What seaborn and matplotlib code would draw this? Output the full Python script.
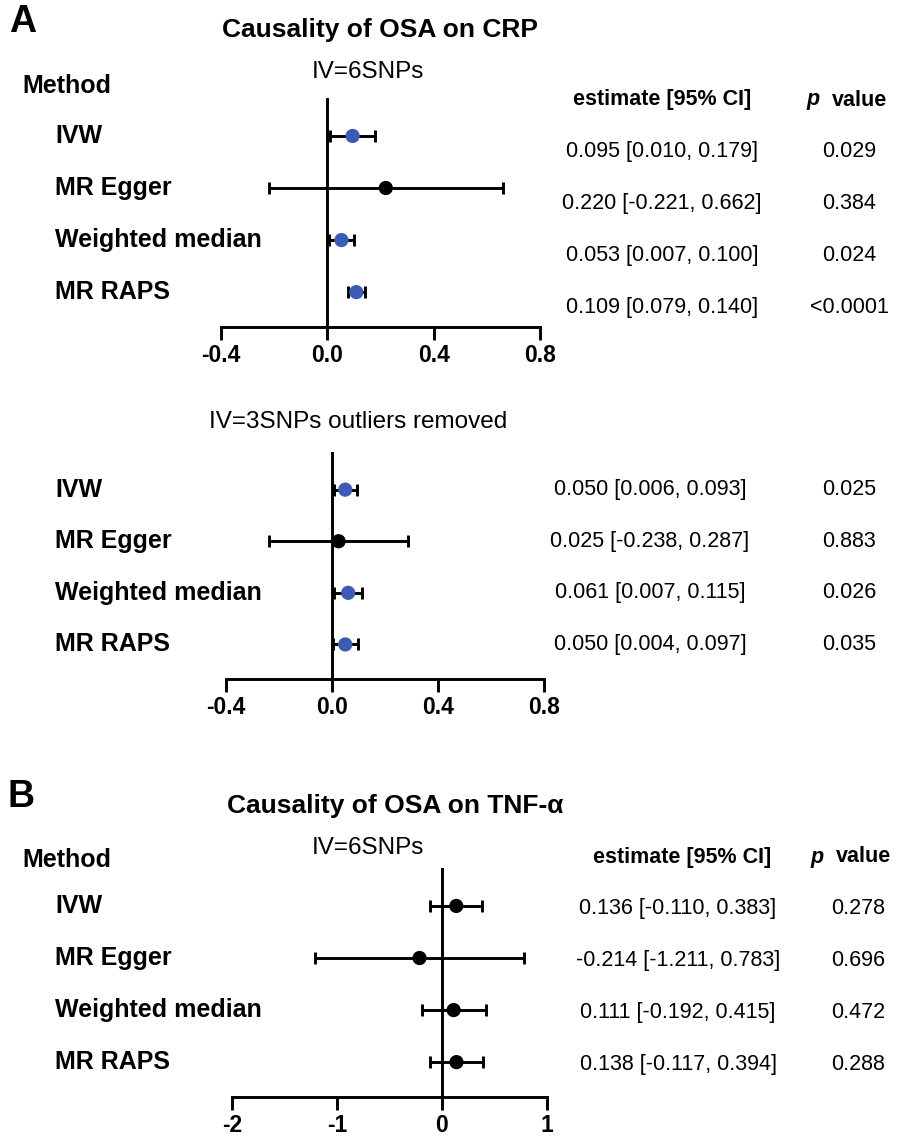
import matplotlib
matplotlib.use("Agg")
import matplotlib.pyplot as plt
import matplotlib.transforms as mtrans
import seaborn as sns
import pandas as pd

sns.set_theme(style="white")
plt.rcParams['font.family'] = ['Liberation Sans', 'DejaVu Sans']
plt.rcParams['text.color'] = 'black'
plt.rcParams['xtick.color'] = 'black'
plt.rcParams['axes.edgecolor'] = 'black'

# ---------------- data ----------------
methods = ["IVW", "MR Egger", "Weighted median", "MR RAPS"]

crp6_est = [0.095, 0.220, 0.053, 0.109]
crp6_lo = [0.010, -0.221, 0.007, 0.079]
crp6_hi = [0.179, 0.662, 0.100, 0.140]
crp6_p = ["0.029", "0.384", "0.024", "<0.0001"]

crp3_est = [0.050, 0.025, 0.061, 0.050]
crp3_lo = [0.006, -0.238, 0.007, 0.004]
crp3_hi = [0.093, 0.287, 0.115, 0.097]
crp3_p = ["0.025", "0.883", "0.026", "0.035"]

tnf_est = [0.136, -0.214, 0.111, 0.138]
tnf_lo = [-0.110, -1.211, -0.192, -0.117]
tnf_hi = [0.383, 0.783, 0.415, 0.394]
tnf_p = ["0.278", "0.696", "0.472", "0.288"]

crp_groups = ["sig", "ns", "sig", "sig"]
tnf_groups = ["ns", "ns", "ns", "ns"]

crp_ticks = [-0.4, 0.0, 0.4, 0.8]
crp_ticklabels = ["-0.4", "0.0", "0.4", "0.8"]
tnf_ticks = [-2, -1, 0, 1]
tnf_ticklabels = ["-2", "-1", "0", "1"]

BLUE = "#3D5BB3"
palette = {"sig": BLUE, "ns": "black"}

W, H = 903, 1137
fig = plt.figure(figsize=(W / 100, H / 100), dpi=100)


def fx(px):
    return px / W


def fy(py):
    return 1 - py / H


def panel(left, right, top, bottom, est, lo, hi, groups, ticks, ticklabels,
          pvals, est_cx, p_cx, text_off, label_x=55):
    ax = fig.add_axes([fx(left), fy(bottom), fx(right - left), (bottom - top) / H])
    df = pd.DataFrame({"method": methods, "pos": range(len(methods)),
                       "est": est, "lo": lo, "hi": hi, "grp": groups})
    ax.errorbar(df["est"], df["pos"],
                xerr=[df["est"] - df["lo"], df["hi"] - df["est"]],
                fmt="none", ecolor="black", elinewidth=2.1, capsize=4.5,
                capthick=2.1, zorder=2)
    sns.scatterplot(data=df, x="est", y="pos", hue="grp", palette=palette,
                    s=105, edgecolor="none", legend=False, ax=ax, zorder=3)
    ax.set_xlim(ticks[0], ticks[-1])
    ax.set_ylim(3.67, -0.71)
    ax.set_xlabel("")
    ax.set_ylabel("")
    ax.set_yticks([])
    ax.set_xticks(ticks)
    ax.set_xticklabels(ticklabels, fontsize=16.5, fontweight="bold")
    ax.tick_params(axis="x", direction="out", length=9, width=2.1, pad=3,
                   bottom=True, colors="black")
    for s in ["top", "right"]:
        ax.spines[s].set_visible(False)
    ax.spines["left"].set_position(("data", 0))
    ax.spines["left"].set_linewidth(2.1)
    ax.spines["bottom"].set_linewidth(2.1)
    ax.spines["left"].set_color("black")
    ax.spines["bottom"].set_color("black")
    ax.patch.set_alpha(0)
    for c in ax.collections:
        c.set_clip_on(False)
    for l in ax.lines:
        l.set_clip_on(False)

    tr = mtrans.blended_transform_factory(fig.transFigure, ax.transData)
    for i, m in enumerate(methods):
        fig.text(fx(label_x), i, m, transform=tr, fontsize=18,
                 fontweight="bold", ha="left", va="center")
        fig.text(fx(est_cx), i + text_off,
                 f"{est[i]:.3f} [{lo[i]:.3f}, {hi[i]:.3f}]", transform=tr,
                 fontsize=15.5, ha="center", va="center")
        fig.text(fx(p_cx), i + text_off, pvals[i], transform=tr,
                 fontsize=15.5, ha="center", va="center")
    return ax


def header(y, est_cx, p_x):
    fig.text(fx(est_cx), fy(y), "estimate [95% CI]", fontsize=15.5,
             fontweight="bold", ha="center", va="center")
    fig.text(fx(p_x), fy(y), "p", fontsize=15.5, fontweight="bold",
             fontstyle="italic", ha="left", va="center")
    fig.text(fx(p_x + 26), fy(y), "value", fontsize=15.5, fontweight="bold",
             ha="left", va="center")


# ---------- Panel A ----------
fig.text(fx(9), fy(22), "A", fontsize=27, fontweight="bold", ha="left", va="center")
fig.text(fx(380), fy(30), "Causality of OSA on CRP", fontsize=19,
         fontweight="bold", ha="center", va="center")
fig.text(fx(368), fy(72), "IV=6SNPs", fontsize=17.5, ha="center", va="center")
fig.text(fx(22), fy(86), "Method", fontsize=18, fontweight="bold",
         ha="left", va="center")
header(100, 662, 806)
panel(221, 540, 99, 327, crp6_est, crp6_lo, crp6_hi, crp_groups,
      crp_ticks, crp_ticklabels, crp6_p, 662, 849, 0.3)

fig.text(fx(358), fy(422), "IV=3SNPs outliers removed", fontsize=17.5,
         ha="center", va="center")
panel(226, 544, 453, 679, crp3_est, crp3_lo, crp3_hi, crp_groups,
      crp_ticks, crp_ticklabels, crp3_p, 650, 849, 0.0)

# ---------- Panel B ----------
fig.text(fx(8), fy(797), "B", fontsize=27, fontweight="bold", ha="left", va="center")
fig.text(fx(395), fy(806), "Causality of OSA on TNF-α", fontsize=19,
         fontweight="bold", ha="center", va="center")
fig.text(fx(368), fy(848), "IV=6SNPs", fontsize=17.5, ha="center", va="center")
fig.text(fx(22), fy(860), "Method", fontsize=18, fontweight="bold",
         ha="left", va="center")
header(857, 682, 810)
panel(232, 547, 869, 1097, tnf_est, tnf_lo, tnf_hi, tnf_groups,
      tnf_ticks, tnf_ticklabels, tnf_p, 678, 858, 0.05)

fig.savefig("out.png", dpi=100, facecolor="white")
